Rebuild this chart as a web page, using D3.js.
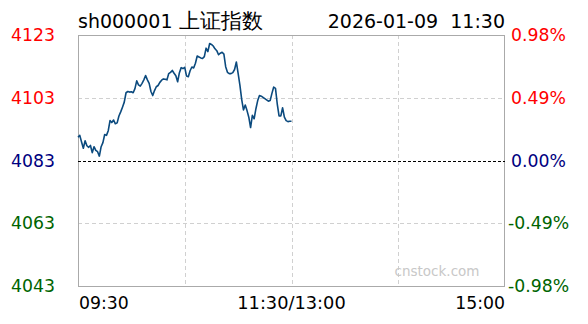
<!DOCTYPE html>
<html><head><meta charset="utf-8">
<script src="https://cdn.jsdelivr.net/npm/d3@7/dist/d3.min.js"></script>
<style>
html,body{margin:0;padding:0;background:#fff;}
svg{display:block;}
text{font-family:"DejaVu Sans",Verdana,sans-serif;}
</style></head><body>
<div id="chart"></div>
<script>
const titleCode = "sh000001 ";
const titleName = "上证指数";
const stamp = "2026-01-09  11:30";
const prevClose = 4083;
const priceTicks = [4123, 4103, 4083, 4063, 4043];
const pctTicks = ["0.98%", "0.49%", "0.00%", "-0.49%", "-0.98%"];
const timeTicks = ["09:30", "11:30/13:00", "15:00"];
// one value per minute from 09:30 to 11:30
const prices = [
4090.4,4091.0,4088.9,4086.9,4089.3,4087.7,4087.2,4087.8,4085.5,4087.4,
4086.2,4085.8,4084.4,4087.4,4088.7,4091.3,4091.0,4092.5,4095.7,4095.1,
4095.9,4094.7,4095.0,4097.2,4098.5,4100.0,4101.6,4104.6,4105.0,4104.8,
4104.9,4104.6,4105.9,4108.4,4107.1,4106.7,4107.6,4108.7,4110.1,4108.7,
4107.6,4105.0,4103.7,4105.3,4106.5,4106.9,4107.9,4108.6,4109.0,4108.9,
4108.7,4110.7,4111.1,4111.7,4110.8,4110.0,4108.1,4111.0,4112.6,4112.3,
4112.7,4109.9,4109.7,4111.6,4112.8,4112.5,4114.0,4116.3,4116.0,4115.7,
4115.5,4116.1,4118.8,4117.7,4120.3,4120.0,4119.5,4118.6,4118.0,4116.7,
4117.2,4117.5,4116.9,4112.9,4111.1,4110.7,4110.7,4111.0,4112.0,4114.4,
4110.8,4107.0,4102.5,4099.1,4100.7,4098.9,4096.8,4093.5,4097.4,4096.3,
4099.5,4102.1,4103.7,4103.5,4103.1,4102.7,4102.3,4101.9,4102.1,4104.4,
4106.4,4106.0,4101.0,4097.2,4097.2,4099.8,4096.8,4095.7,4095.4,4095.5,
4095.5
];
const totalMinutes = 240;

const W = 588, H = 324;
const L = 78, R = 505, T = 35, B = 286;

const svg = d3.select("#chart").append("svg").attr("width", W).attr("height", H);

const x = d3.scaleLinear().domain([0, totalMinutes]).range([L, R]);
const y = d3.scaleLinear().domain([d3.min(priceTicks), d3.max(priceTicks)]).range([B, T]);

const tickColor = (v) => v > prevClose ? "#ff0000" : (v < prevClose ? "#006400" : "#000080");

// grid: horizontal dashed
const hLines = priceTicks.filter(v => v !== prevClose && v !== d3.min(priceTicks) && v !== d3.max(priceTicks));
svg.append("g").selectAll("line").data(hLines).join("line")
  .attr("x1", L).attr("x2", R)
  .attr("y1", d => Math.round(y(d)) + 0.5).attr("y2", d => Math.round(y(d)) + 0.5)
  .attr("stroke", "#d0d0d0").attr("stroke-dasharray", "4,3");
// vertical dashed
const vLines = [60, 120, 180];
svg.append("g").selectAll("line").data(vLines).join("line")
  .attr("x1", d => Math.round(x(d)) + 0.5).attr("x2", d => Math.round(x(d)) + 0.5)
  .attr("y1", T).attr("y2", B)
  .attr("stroke", "#d0d0d0").attr("stroke-dasharray", "4,3");

// watermark
svg.append("text").attr("x", 437).attr("y", 276).attr("text-anchor", "middle")
  .attr("font-size", 13.5).attr("fill", "#c8c8c8").text("cnstock.com");

// border
svg.append("rect").attr("x", L + 0.5).attr("y", T + 0.5).attr("width", R - L - 1).attr("height", B - T)
  .attr("fill", "none").attr("stroke", "#aaaaaa");

// prev close dotted line
svg.append("line").attr("x1", L).attr("x2", R)
  .attr("y1", Math.round(y(prevClose)) + 0.5).attr("y2", Math.round(y(prevClose)) + 0.5)
  .attr("stroke", "#000").attr("stroke-dasharray", "3,2");

// price line
const line = d3.line().x((d, i) => x(i)).y(d => y(d));
svg.append("path").datum(prices).attr("d", line)
  .attr("fill", "none").attr("stroke", "#0b4a7e").attr("stroke-width", 1.6)
  .attr("stroke-linejoin", "round");

// left axis labels
const fs = 17.3;
svg.append("g").selectAll("text").data(priceTicks).join("text")
  .attr("x", 55).attr("y", d => y(d)).attr("dy", "0.36em")
  .attr("text-anchor", "end").attr("font-size", fs)
  .attr("fill", d => tickColor(d)).text(d => d);

// right axis labels
svg.append("g").selectAll("text").data(pctTicks).join("text")
  .attr("x", (d) => d.startsWith("-") ? 508 : 511).attr("y", (d, i) => y(priceTicks[i])).attr("dy", "0.36em")
  .attr("text-anchor", "start").attr("font-size", fs)
  .attr("fill", (d, i) => tickColor(priceTicks[i])).text(d => d);

// time labels
const tPos = [0, 120, 240];
const tAnchor = ["start", "middle", "end"];
svg.append("g").selectAll("text").data(timeTicks).join("text")
  .attr("x", (d, i) => x(tPos[i]) + (i === 0 ? 1 : 0)).attr("y", 303).attr("dy", "0.36em")
  .attr("text-anchor", (d, i) => tAnchor[i]).attr("font-size", (d, i) => i === 1 ? 17.8 : fs)
  .attr("fill", "#000").text(d => d);

// title
const t = svg.append("text").attr("x", L).attr("y", 28).attr("font-size", 19).attr("fill", "#000")
  .attr("xml:space", "preserve").style("white-space", "pre");
t.append("tspan").text(titleCode);
t.append("tspan").attr("font-size", 20.5).text(titleName);
svg.append("text").attr("x", R).attr("y", 28).attr("text-anchor", "end").attr("font-size", 19)
  .attr("fill", "#000").attr("xml:space", "preserve").style("white-space", "pre").text(stamp);
</script>
</body></html>
